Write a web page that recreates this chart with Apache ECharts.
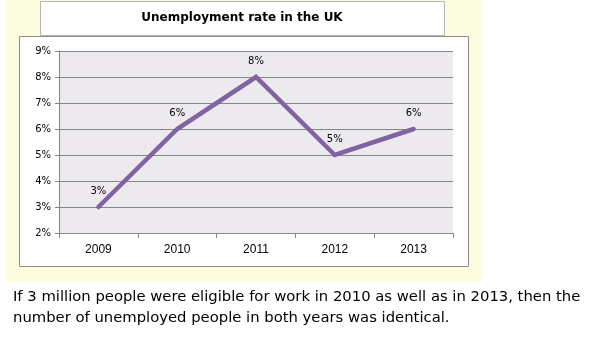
<!DOCTYPE html>
<html>
<head>
<meta charset="utf-8">
<script src="https://cdn.jsdelivr.net/npm/echarts@6/dist/echarts.min.js"></script>
<style>
  html, body { margin: 0; padding: 0; background: #ffffff; }
  #chart { width: 594px; height: 339px; }
</style>
</head>
<body>
<div id="chart"></div>
<script>
// Unemployment rate by year (percent)
const years = ['2009', '2010', '2011', '2012', '2013'];
const rates = [3, 6, 8, 5, 6];
const yTicks = { min: 2, max: 9, step: 1 };

const titleText = 'Unemployment rate in the UK';
const noteLines = [
  'If 3 million people were eligible for work in 2010 as well as in 2013, then the',
  'number of unemployed people in both years was identical.'
];

const chart = echarts.init(document.getElementById('chart'), null, { renderer: 'canvas' });

const gridBox = { left: 59, top: 51, right: 141, bottom: 106 };

chart.setOption({
  backgroundColor: '#ffffff',
  animation: false,
  graphic: [
    // pale yellow panel behind the chart
    { type: 'rect', z: -10, shape: { x: 6, y: 0, width: 476, height: 282 },
      style: { fill: '#FCFCDE' } },
    // title box
    { type: 'rect', z: -5, shape: { x: 40.5, y: 1.5, width: 404, height: 34 },
      style: { fill: '#ffffff', stroke: '#B4B4B4', lineWidth: 1 } },
    { type: 'text', z: 5, x: 242, y: 18,
      style: { text: titleText, font: 'bold 12px "DejaVu Sans"', fill: '#000000',
               align: 'center', verticalAlign: 'middle' } },
    // chart box
    { type: 'rect', z: -5, shape: { x: 19.5, y: 36.5, width: 449, height: 230 },
      style: { fill: '#ffffff', stroke: '#8C8C8C', lineWidth: 1 } },
    // note below the chart
    { type: 'text', x: 13, y: 297,
      style: { text: noteLines[0], font: '14.8px "DejaVu Sans"', fill: '#000000',
               verticalAlign: 'middle' } },
    { type: 'text', x: 13, y: 318,
      style: { text: noteLines[1], font: '14.8px "DejaVu Sans"', fill: '#000000',
               verticalAlign: 'middle' } }
  ],
  grid: {
    left: gridBox.left, top: gridBox.top, right: gridBox.right, bottom: gridBox.bottom,
    show: true, backgroundColor: '#ECE9EF', borderWidth: 0
  },
  xAxis: {
    type: 'category',
    data: years,
    boundaryGap: true,
    axisLine: { show: true, lineStyle: { color: '#868686', width: 1 } },
    axisTick: { show: true, alignWithLabel: false, length: 5, lineStyle: { color: '#868686' } },
    axisLabel: { color: '#000000', fontFamily: 'Liberation Sans', fontSize: 12, margin: 11 },
    splitLine: { show: false }
  },
  yAxis: {
    type: 'value',
    min: yTicks.min, max: yTicks.max, interval: yTicks.step,
    axisLine: { show: true, lineStyle: { color: '#868686', width: 1 } },
    axisTick: { show: true, length: 4, lineStyle: { color: '#868686' } },
    axisLabel: { color: '#000000', fontFamily: 'DejaVu Sans', fontSize: 10, margin: 8,
                 formatter: '{value}%' },
    splitLine: { show: true, lineStyle: { color: '#868686', width: 1 } }
  },
  series: [{
    type: 'line',
    data: rates,
    symbol: 'circle',
    symbolSize: 2,
    showSymbol: true,
    lineStyle: { color: '#8064A2', width: 4.5, cap: 'round', join: 'miter' },
    itemStyle: { color: '#8064A2' },
    label: {
      show: true, position: 'top', distance: 10,
      color: '#000000', fontFamily: 'DejaVu Sans', fontSize: 10,
      formatter: p => p.value + '%'
    }
  }]
});
</script>
</body>
</html>
